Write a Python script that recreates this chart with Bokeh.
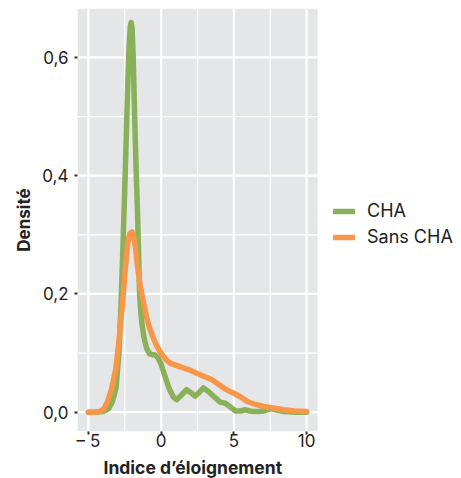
from bokeh.plotting import figure
from bokeh.models import (FixedTicker, CustomJSTickFormatter, Legend, LegendItem,
                          Range1d, BoxAnnotation, Title)
from bokeh.embed import file_html
from bokeh.resources import INLINE

# ---- data ----
series_names = ["CHA", "Sans CHA"]

x_cha = [-5, -4.5, -4.0, -3.6, -3.35, -3.1, -2.9, -2.75, -2.6, -2.45, -2.3, -2.2,
         -2.12, -2.06, -2.0, -1.92, -1.82, -1.72, -1.64, -1.56, -1.48, -1.35, -1.19,
         -1.0, -0.8, -0.6, -0.44, -0.21, 0.0, 0.25, 0.55, 0.83, 1.06, 1.4, 1.75, 2.05,
         2.33, 2.6, 2.91, 3.25, 3.6, 4.06, 4.41, 4.75, 5.1, 5.45, 5.8, 6.1, 6.37, 6.7,
         7.07, 7.53, 8.0, 8.45, 9.2, 10]
y_cha = [0, 0, 0.001, 0.006, 0.018, 0.041, 0.10, 0.187, 0.30, 0.42, 0.55, 0.62,
         0.652, 0.659, 0.65, 0.60, 0.50, 0.41, 0.35, 0.28, 0.20, 0.155, 0.128,
         0.108, 0.099, 0.097, 0.097, 0.092, 0.081, 0.062, 0.04, 0.026, 0.021, 0.029,
         0.038, 0.033, 0.027, 0.033, 0.041, 0.035, 0.027, 0.017, 0.015, 0.009, 0.002,
         0.002, 0.004, 0.002, 0.001, 0.001, 0.002, 0.006, 0.003, 0.001, 0.0, 0.0]

x_sans = [-5, -4.6, -4.26, -3.95, -3.68, -3.4, -3.1, -2.86, -2.64, -2.45, -2.3, -2.15,
          -2.0, -1.87, -1.75, -1.64, -1.45, -1.25, -1.0, -0.79, -0.45, -0.1, 0.3, 0.6,
          0.94, 1.52, 2.0, 2.45, 3.0, 3.49, 3.9, 4.29, 4.65, 5.0, 5.45, 5.92, 6.5,
          7.07, 7.7, 8.45, 9.2, 10]
y_sans = [0, 0, 0.001, 0.005, 0.018, 0.04, 0.075, 0.13, 0.188, 0.245, 0.285, 0.302,
          0.305, 0.295, 0.275, 0.25, 0.215, 0.19, 0.16, 0.142, 0.12, 0.103, 0.09,
          0.083, 0.08, 0.075, 0.071, 0.066, 0.06, 0.055, 0.048, 0.041, 0.036, 0.032,
          0.026, 0.018, 0.013, 0.0097, 0.007, 0.004, 0.002, 0.001]

x_ticks = [-5, 0, 5, 10]
x_minor = [-2.5, 2.5, 7.5]
y_ticks = [0, 0.2, 0.4, 0.6]
y_minor = [0.1, 0.3, 0.5]

x_title = "Indice d\u2019éloignement"
y_title = "Densité"

GREEN = "#8AB05A"
ORANGE = "#F8964A"
PANEL = "#E5E6E8"
FONT = "Inter"
TXT = "#222222"

# panel (grey) limits in data units; frame extends further right for the legend
X_LO, X_HI = -5.75, 10.75
Y_LO, Y_HI = -0.0327, 0.6827
PANEL_PX = 240
FRAME_PX = 384
x_end = X_LO + (X_HI - X_LO) * FRAME_PX / PANEL_PX

p = figure(frame_width=FRAME_PX, height=478, output_backend="svg",
           toolbar_location=None,
           x_range=Range1d(X_LO, x_end), y_range=Range1d(Y_LO, Y_HI),
           min_border_left=77, min_border_right=0, min_border_top=8,
           min_border_bottom=20)
p.outline_line_color = None
p.background_fill_color = "white"
p.border_fill_color = "white"
p.grid.visible = False

p.add_layout(BoxAnnotation(left=X_LO, right=X_HI, fill_color=PANEL, fill_alpha=1,
                           line_color=None, level="underlay"))

# grid lines restricted to the grey panel
p.segment(x0=x_minor, x1=x_minor, y0=[Y_LO] * len(x_minor), y1=[Y_HI] * len(x_minor),
          line_color="white", line_width=1.2)
p.segment(x0=[X_LO] * len(y_minor), x1=[X_HI] * len(y_minor), y0=y_minor, y1=y_minor,
          line_color="white", line_width=1.2)
p.segment(x0=x_ticks, x1=x_ticks, y0=[Y_LO] * len(x_ticks), y1=[Y_HI] * len(x_ticks),
          line_color="white", line_width=2.2)
p.segment(x0=[X_LO] * len(y_ticks), x1=[X_HI] * len(y_ticks), y0=y_ticks, y1=y_ticks,
          line_color="white", line_width=2.2)

r1 = p.line(x_cha, y_cha, line_color=GREEN, line_width=5.5, line_join="round",
            line_cap="round")
r2 = p.line(x_sans, y_sans, line_color=ORANGE, line_width=5.5, line_join="round",
            line_cap="round")

p.xaxis.ticker = FixedTicker(ticks=x_ticks, minor_ticks=[])
p.yaxis.ticker = FixedTicker(ticks=y_ticks, minor_ticks=[])
p.xaxis.formatter = CustomJSTickFormatter(
    code="return tick < 0 ? '\u2013 ' + Math.abs(tick) : '' + tick;")
p.yaxis.formatter = CustomJSTickFormatter(
    code="return tick.toFixed(1).replace('.', ',');")

for ax in (p.xaxis[0], p.yaxis[0]):
    ax.axis_line_color = None
    ax.major_tick_line_color = "#333333"
    ax.major_tick_line_width = 2
    ax.major_tick_out = 3
    ax.major_tick_in = 0
    ax.minor_tick_line_color = None
    ax.major_label_text_font = FONT
    ax.major_label_text_font_size = "17px"
    ax.major_label_text_color = TXT

p.yaxis.axis_label = y_title
p.yaxis.axis_label_text_font = FONT
p.yaxis.axis_label_text_font_style = "bold"
p.yaxis.axis_label_text_color = TXT
p.yaxis.axis_label_text_font_size = "17px"
p.yaxis.major_label_standoff = 6
p.yaxis.axis_label_standoff = 5
p.xaxis.major_label_standoff = -4

p.add_layout(Title(text=x_title, align="left", offset=26, text_font=FONT,
                   text_font_size="17.5px", text_font_style="bold",
                   text_color=TXT, standoff=2), "below")

legend = Legend(items=[LegendItem(label=series_names[0], renderers=[r1]),
                       LegendItem(label=series_names[1], renderers=[r2])],
                location=(256, 184), orientation="vertical")
legend.label_text_font = FONT
legend.label_text_font_size = "18px"
legend.label_text_color = TXT
legend.glyph_width = 22
legend.glyph_height = 20
legend.label_height = 20
legend.spacing = 5
legend.padding = 0
legend.margin = 0
legend.label_standoff = 12
legend.border_line_color = None
legend.background_fill_alpha = 0
p.add_layout(legend)

open("out.html", "w").write(file_html(p, INLINE))
